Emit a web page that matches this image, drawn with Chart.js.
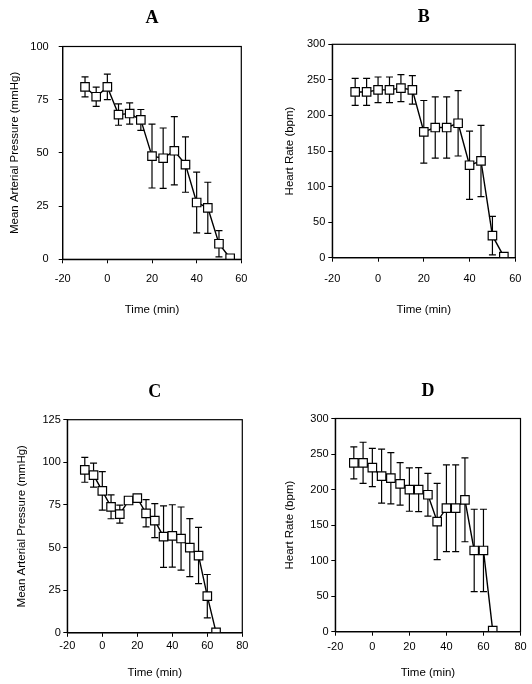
<!DOCTYPE html>
<html><head><meta charset="utf-8">
<script src="https://cdn.jsdelivr.net/npm/chart.js@4.4.1/dist/chart.umd.min.js"></script>
<style>
html,body{margin:0;padding:0;background:#fff;}
#wrap{position:relative;width:532px;height:684px;overflow:hidden;background:#fff;}
canvas{position:absolute;}
</style></head><body>
<div id="wrap">
<canvas id="cA" width="266" height="340" style="left:0px;top:0px"></canvas>
<canvas id="cB" width="266" height="340" style="left:266px;top:0px"></canvas>
<canvas id="cC" width="266" height="344" style="left:0px;top:340px"></canvas>
<canvas id="cD" width="266" height="344" style="left:266px;top:340px"></canvas>
</div>
<script>
// ---- data ----
const timeAB = [-10, -5, 0, 5, 10, 15, 20, 25, 30, 35, 40, 45, 50, 55];
const timeCD = [-10, -5, 0, 5, 10, 15, 20, 25, 30, 35, 40, 45, 50, 55, 60, 65];

const mapA    = [81, 76.4, 81, 68, 68.5, 65.5, 48.5, 47.5, 51, 44.5, 26.7, 24.2, 7.3, 0.5];
const mapAErr = [4.7, 4.5, 6, 5, 5, 4.9, 15, 14.2, 16, 13, 14.3, 12, 6.2, 0];

const hrB    = [233, 233, 236, 236, 238.5, 236, 177, 183, 183, 189, 130, 136, 31, 1.5];
const hrBErr = [19, 19, 18, 18, 19, 20, 44, 43, 43, 46, 48, 50, 27, 0];

const mapC    = [95.6, 92.5, 83.3, 73.9, 69.6, 77.6, 79, 70.1, 65.8, 56.4, 56.8, 55.3, 50, 45.3, 21.5, 0.2];
const mapCErr = [7.3, 7, 11.3, 7, 5.3, 1.5, 1.5, 8, 10, 18, 18.3, 18.5, 17, 16.5, 12.7, 0];

const hrD    = [237.6, 237.6, 231, 219, 216, 208, 200, 200, 192.7, 155, 173.8, 173.8, 185.6, 114.3, 114.3, 1.4];
const hrDErr = [22.5, 29, 27, 38, 36, 30, 30.5, 31, 30, 53.6, 61, 61, 59, 58, 58, 0];

const xTicksAB = [-20, 0, 20, 40, 60];
const xTicksCD = [-20, 0, 20, 40, 60, 80];
const yTicksA = [0, 25, 50, 75, 100];
const yTicksB = [0, 50, 100, 150, 200, 250, 300];
const yTicksC = [0, 25, 50, 75, 100, 125];
const yTicksD = [0, 50, 100, 150, 200, 250, 300];

const panelTitles = ['A', 'B', 'C', 'D'];
const xTitle = 'Time (min)';
const yTitleMAP = 'Mean Arterial Pressure (mmHg)';
const yTitleHR = 'Heart Rate (bpm)';

// ---- plugins ----
const errorBarPlugin = {
  id: 'errorBars',
  beforeDatasetsDraw(chart, args, opts) {
    const {ctx} = chart;
    const xs = chart.scales.x, ys = chart.scales.y;
    const ds = chart.data.datasets[0];
    const errs = opts.errors || [];
    ctx.save();
    ctx.strokeStyle = '#000';
    ctx.lineWidth = 1.2;
    const cap = 3.5;
    ds.data.forEach((p, i) => {
      const e = errs[i];
      if (!e) return;
      const px = xs.getPixelForValue(p.x);
      const top = ys.getPixelForValue(p.y + e);
      const bot = ys.getPixelForValue(p.y - e);
      ctx.beginPath();
      ctx.moveTo(px, top); ctx.lineTo(px, bot);
      ctx.moveTo(px - cap, top); ctx.lineTo(px + cap, top);
      ctx.moveTo(px - cap, bot); ctx.lineTo(px + cap, bot);
      ctx.stroke();
    });
    ctx.restore();
  }
};
const framePlugin = {
  id: 'frame',
  afterDraw(chart) {
    const {ctx, chartArea: a} = chart;
    ctx.save();
    ctx.strokeStyle = '#000';
    ctx.lineWidth = 1.2;
    ctx.strokeRect(a.left, a.top, a.right - a.left, a.bottom - a.top);
    ctx.restore();
  }
};

const sansFam = "'Liberation Sans', Arial, Helvetica, sans-serif";
const serifFam = "'Liberation Serif', 'Times New Roman', serif";

function makePanel(id, g) {
  const data = g.times.map((t, i) => ({x: t, y: g.values[i]}));
  new Chart(document.getElementById(id), {
    type: 'line',
    data: {
      datasets: [{
        data: data,
        borderColor: '#000',
        borderWidth: 1.4,
        tension: 0,
        pointStyle: 'rect',
        pointRadius: 6,
        pointBackgroundColor: '#fff',
        pointBorderColor: '#000',
        pointBorderWidth: 1.2,
        fill: false
      }]
    },
    options: {
      responsive: false,
      animation: false,
      events: [],
      layout: {padding: {left: 0, top: 0, bottom: 0, right: g.padRight}},
      plugins: {
        legend: {display: false},
        tooltip: {enabled: false},
        title: {
          display: true,
          text: g.title,
          fullSize: false,
          color: '#000',
          font: {family: serifFam, size: 18, weight: 'bold', lineHeight: 1.2},
          padding: {top: g.titleTop, bottom: g.titleBottom}
        },
        errorBars: {errors: g.errors}
      },
      scales: {
        x: {
          type: 'linear',
          min: g.xTicks[0],
          max: g.xTicks[g.xTicks.length - 1],
          afterBuildTicks: s => { s.ticks = g.xTicks.map(v => ({value: v})); },
          afterFit: s => { s.height = g.xHeight; },
          grid: {display: true, drawOnChartArea: false, drawTicks: true, tickLength: 4, color: '#000', lineWidth: 1},
          border: {display: true, color: '#000', width: 1.2},
          ticks: {color: '#000', padding: g.xTickPad, maxRotation: 0, font: {family: sansFam, size: 11}},
          title: {display: true, text: xTitle, color: '#000', font: {family: sansFam, size: 11.5, lineHeight: 1.2}, padding: {top: 0, bottom: g.xTitleBottom}}
        },
        y: {
          type: 'linear',
          min: g.yTicks[0],
          max: g.yTicks[g.yTicks.length - 1],
          afterBuildTicks: s => { s.ticks = g.yTicks.map(v => ({value: v})); },
          afterFit: s => { s.width = g.yWidth; },
          grid: {display: true, drawOnChartArea: false, drawTicks: true, tickLength: 4, color: '#000', lineWidth: 1},
          border: {display: true, color: '#000', width: 1.2},
          ticks: {color: '#000', padding: g.yTickPad, font: {family: sansFam, size: 11}},
          title: {display: true, text: g.yTitle, color: '#000', font: {family: sansFam, size: 11.5, lineHeight: 1.2}, padding: {top: g.yTitleOff, bottom: 0}}
        }
      }
    },
    plugins: [errorBarPlugin, framePlugin]
  });
}

makePanel('cA', {
  title: panelTitles[0], times: timeAB, values: mapA, errors: mapAErr,
  xTicks: xTicksAB, yTicks: yTicksA, yTitle: yTitleMAP,
  padRight: 24.7, yWidth: 62.7, xHeight: 80.7,
  titleTop: 7.2, titleBottom: 17.7,
  xTickPad: 8.9, xTitleBottom: 23.1, yTitleOff: 8.4, yTickPad: 10
});
makePanel('cB', {
  title: panelTitles[1], times: timeAB, values: hrB, errors: hrBErr,
  xTicks: xTicksAB, yTicks: yTicksB, yTitle: yTitleHR,
  padRight: 16.7, yWidth: 66.3, xHeight: 82.3,
  titleTop: 6.9, titleBottom: 15.8,
  xTickPad: 10.5, xTitleBottom: 23.1, yTitleOff: 17.4, yTickPad: 3
});
makePanel('cC', {
  title: panelTitles[2], times: timeCD, values: mapC, errors: mapCErr,
  xTicks: xTicksCD, yTicks: yTicksC, yTitle: yTitleMAP,
  padRight: 23.7, yWidth: 67.3, xHeight: 51.2,
  titleTop: 41.7, titleBottom: 16.4,
  xTickPad: 2.8, xTitleBottom: 4.4, yTitleOff: 14.8, yTickPad: 2.5
});
makePanel('cD', {
  title: panelTitles[3], times: timeCD, values: hrD, errors: hrDErr,
  xTicks: xTicksCD, yTicks: yTicksD, yTitle: yTitleHR,
  padRight: 11.5, yWidth: 69.3, xHeight: 52.3,
  titleTop: 40.9, titleBottom: 16,
  xTickPad: 5, xTitleBottom: 4.4, yTitleOff: 17.4, yTickPad: 2.6
});
</script>
</body></html>
